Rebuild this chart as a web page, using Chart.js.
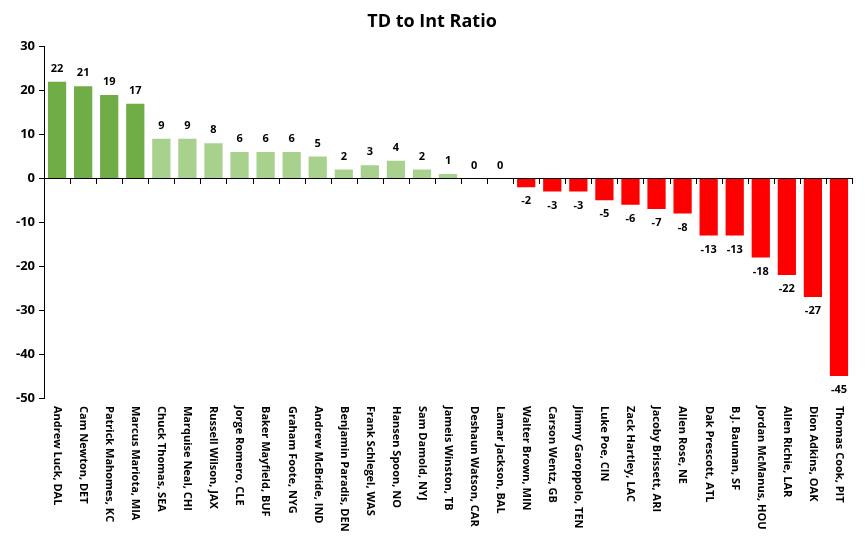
<!DOCTYPE html>
<html>
<head>
<meta charset="utf-8">
<script src="https://cdn.jsdelivr.net/npm/chart.js@4/dist/chart.umd.min.js"></script>
<style>
  body { margin: 0; background: #fff; }
  #wrap { width: 866px; height: 545px; }
</style>
</head>
<body>
<div id="wrap"><canvas id="ratioChart"></canvas></div>
<script>
// dati del grafico
const giocatori = [
  'Andrew Luck, DAL', 'Cam Newton, DET', 'Patrick Mahomes, KC', 'Marcus Mariota, MIA',
  'Chuck Thomas, SEA', 'Marquise Neal, CHI', 'Russell Wilson, JAX', 'Jorge Romero, CLE',
  'Baker Mayfield, BUF', 'Graham Foote, NYG', 'Andrew McBride, IND', 'Benjamin Paradis, DEN',
  'Frank Schlegel, WAS', 'Hansen Spoon, NO', 'Sam Damold, NYJ', 'Jameis Winston, TB',
  'Deshaun Watson, CAR', 'Lamar Jackson, BAL', 'Walter Brown, MIN', 'Carson Wentz, GB',
  'Jimmy Garoppolo, TEN', 'Luke Poe, CIN', 'Zack Hartley, LAC', 'Jacoby Brissett, ARI',
  'Allen Rose, NE', 'Dak Prescott, ATL', 'B.J. Bauman, SF', 'Jordan McManus, HOU',
  'Allen Richie, LAR', 'Dion Adkins, OAK', 'Thomas Cook, PIT'
];
const rapporto = [22, 21, 19, 17, 9, 9, 8, 6, 6, 6, 5, 2, 3, 4, 2, 1, 0, 0,
  -2, -3, -3, -5, -6, -7, -8, -13, -13, -18, -22, -27, -45];
const yTicks = [-50, -40, -30, -20, -10, 0, 10, 20, 30];

const FONT = '"Open Sans", "DejaVu Sans", sans-serif';

function coloreBarra(v) {
  if (v >= 10) return '#70AD47';
  if (v >= 0) return '#A9D18E';
  return '#FF0000';
}

// etichette valori, linea dello zero, tacche e nomi ruotati
const disegnaExtra = {
  id: 'disegnaExtra',
  afterDatasetsDraw(chart) {
    const ctx = chart.ctx;
    const x = chart.scales.x;
    const y = chart.scales.y;
    const area = chart.chartArea;
    const y0 = y.getPixelForValue(0);
    ctx.save();

    // linea dello zero + tacche
    ctx.strokeStyle = '#000';
    ctx.lineWidth = 1;
    ctx.beginPath();
    ctx.moveTo(area.left, Math.round(y0) + 0.5);
    ctx.lineTo(area.right, Math.round(y0) + 0.5);
    for (let i = 0; i <= giocatori.length; i++) {
      const px = i < giocatori.length
        ? x.getPixelForValue(i) - (x.getPixelForValue(1) - x.getPixelForValue(0)) / 2
        : area.right;
      ctx.moveTo(Math.round(px) + 0.5, Math.round(y0));
      ctx.lineTo(Math.round(px) + 0.5, Math.round(y0) + 6);
    }
    ctx.stroke();

    // valori sopra / sotto le barre
    const meta = chart.getDatasetMeta(0);
    ctx.fillStyle = '#000';
    ctx.font = 'bold 11px ' + FONT;
    ctx.textAlign = 'center';
    ctx.textBaseline = 'middle';
    meta.data.forEach((bar, i) => {
      const v = rapporto[i];
      const ly = v >= 0 ? bar.y - 13 : bar.y + 14;
      ctx.fillText(String(v), bar.x, ly);
    });

    // nomi dei giocatori, ruotati in senso orario
    ctx.font = 'bold 11px ' + FONT;
    ctx.textAlign = 'left';
    giocatori.forEach((nome, i) => {
      ctx.save();
      ctx.translate(x.getPixelForValue(i), area.bottom + 8);
      ctx.rotate(Math.PI / 2);
      ctx.fillText(nome, 0, 0);
      ctx.restore();
    });
    ctx.restore();
  }
};

const ctx = document.getElementById('ratioChart').getContext('2d');
const chart = new Chart(ctx, {
  type: 'bar',
  data: {
    labels: giocatori,
    datasets: [{
      data: rapporto,
      backgroundColor: rapporto.map(coloreBarra),
      barPercentage: 0.7,
      categoryPercentage: 1
    }]
  },
  options: {
    responsive: true,
    maintainAspectRatio: false,
    animation: false,
    layout: { padding: { left: 12, right: 14, top: 0, bottom: 139 } },
    plugins: {
      legend: { display: false },
      tooltip: { enabled: false },
      title: {
        display: true,
        text: 'TD to Int Ratio',
        color: '#000',
        font: { family: FONT, size: 18, weight: 'bold' },
        padding: { top: 11, bottom: 14 }
      }
    },
    scales: {
      x: {
        ticks: { display: false },
        grid: { display: false },
        border: { display: false }
      },
      y: {
        min: -50,
        max: 30,
        afterBuildTicks: axis => { axis.ticks = yTicks.map(v => ({ value: v })); },
        ticks: {
          color: '#000',
          font: { family: FONT, size: 13, weight: 'bold' },
          padding: 4
        },
        grid: { drawOnChartArea: false, tickLength: 5, tickColor: '#000' },
        border: { display: true, color: '#000', width: 1 }
      }
    }
  },
  plugins: [disegnaExtra]
});
</script>
</body>
</html>
